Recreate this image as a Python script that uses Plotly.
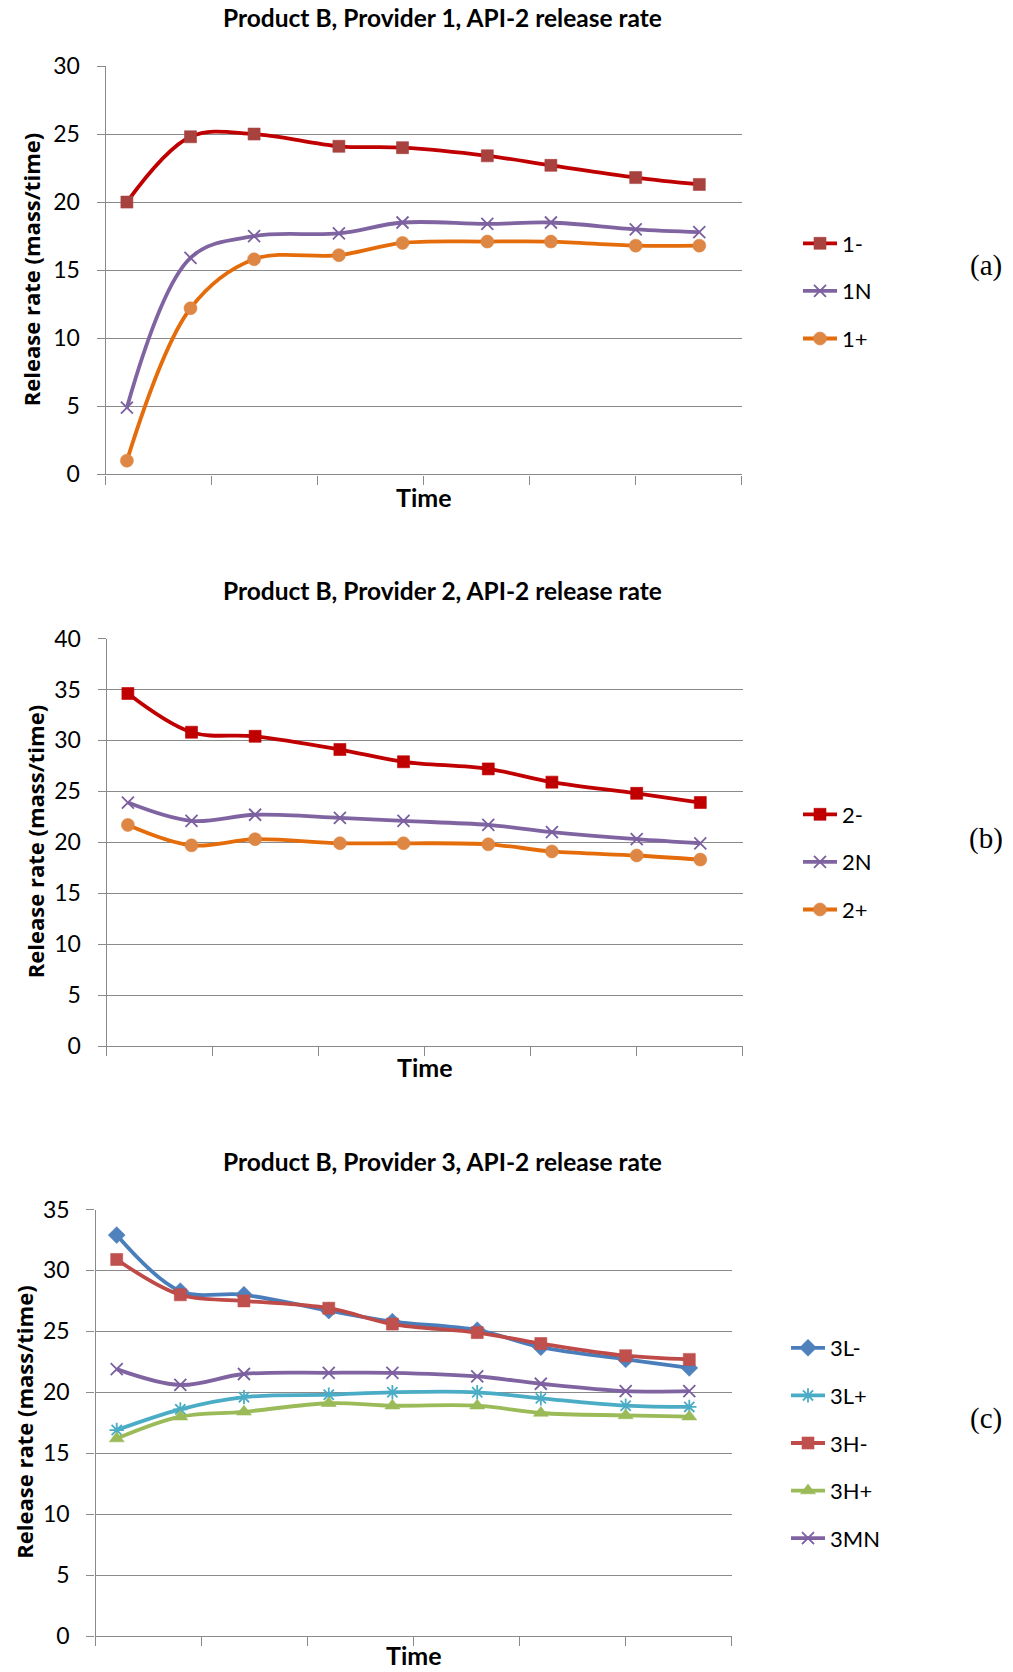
import plotly.graph_objects as go

# Sampling times (days) shared by every series
time_days = [1, 4, 7, 11, 14, 18, 21, 25, 28]

# Provider 1 release rates (mass/time)
p1_minus = [20.0, 24.8, 25.0, 24.1, 24.0, 23.4, 22.7, 21.8, 21.3]
p1_neutral = [4.9, 15.9, 17.5, 17.7, 18.5, 18.4, 18.5, 18.0, 17.8]
p1_plus = [1.0, 12.2, 15.8, 16.1, 17.0, 17.1, 17.1, 16.8, 16.8]

# Provider 2 release rates (mass/time)
p2_minus = [34.6, 30.8, 30.4, 29.1, 27.9, 27.2, 25.9, 24.8, 23.9]
p2_neutral = [23.9, 22.1, 22.7, 22.4, 22.1, 21.7, 21.0, 20.3, 19.9]
p2_plus = [21.7, 19.7, 20.3, 19.9, 19.9, 19.8, 19.1, 18.7, 18.3]

# Provider 3 release rates (mass/time)
p3_low_minus = [32.9, 28.3, 28.0, 26.7, 25.8, 25.1, 23.7, 22.7, 22.0]
p3_low_plus = [16.9, 18.6, 19.6, 19.8, 20.0, 20.0, 19.5, 18.9, 18.8]
p3_high_minus = [30.9, 28.0, 27.5, 26.9, 25.6, 24.9, 24.0, 23.0, 22.7]
p3_high_plus = [16.2, 18.0, 18.4, 19.1, 18.9, 18.9, 18.3, 18.1, 18.0]
p3_mid_neutral = [21.9, 20.6, 21.5, 21.6, 21.6, 21.3, 20.7, 20.1, 20.1]

panel_titles = [
    "Product B, Provider 1, API-2 release rate",
    "Product B, Provider 2, API-2 release rate",
    "Product B, Provider 3, API-2 release rate",
]
panel_tags = ["(a)", "(b)", "(c)"]
y_maxima = [30, 40, 35]

W, H = 1013, 1672


def fx(px):
    return px / W


def fy(py):
    return 1 - py / H


# plot boxes in page pixels: left, right, top, bottom
boxes = [
    (105.7, 741.7, 66.0, 474.3),
    (106.7, 742.7, 638.5, 1046.0),
    (95.5, 731.7, 1209.5, 1636.0),
]

# series: (panel, name, values, line colour, marker symbol, marker colour, marker size)
series = [
    (0, "1-", p1_minus, "#C00000", "square", "#A8423F", 12),
    (0, "1N", p1_neutral, "#8064A2", "x-thin-open", "#7B5FA0", 12),
    (0, "1+", p1_plus, "#E46C0A", "circle", "#DE8644", 13),
    (1, "2-", p2_minus, "#C00000", "square", "#C00000", 12),
    (1, "2N", p2_neutral, "#8064A2", "x-thin-open", "#7B5FA0", 12),
    (1, "2+", p2_plus, "#E46C0A", "circle", "#DE8644", 13),
    (2, "3L-", p3_low_minus, "#4A7EBB", "diamond", "#4F81BD", 13),
    (2, "3L+", p3_low_plus, "#4BACC6", "asterisk-open", "#4BACC6", 12),
    (2, "3H-", p3_high_minus, "#BE4B48", "square", "#C0504D", 12),
    (2, "3H+", p3_high_plus, "#9BBB59", "triangle-up", "#9BBB59", 13),
    (2, "3MN", p3_mid_neutral, "#8064A2", "x-thin-open", "#7B5FA0", 12),
]

fig = go.Figure()
legend_ids = ["legend", "legend2", "legend3"]
for panel, name, vals, lc, sym, mc, ms in series:
    suffix = "" if panel == 0 else str(panel + 1)
    open_sym = sym.endswith("open")
    fig.add_trace(go.Scatter(
        x=time_days, y=vals, name=name,
        mode="lines+markers",
        line=dict(color=lc, width=3.8, shape="spline", smoothing=1),
        marker=dict(symbol=sym, size=ms, color=mc,
                    line=dict(color=mc, width=1.8 if open_sym else 0.6)),
        xaxis="x" + suffix, yaxis="y" + suffix,
        legend=legend_ids[panel], legendgroup=name,
    ))

grid_col = "#8A8A8A"
tick_font = dict(family="Lato", size=23, color="#000000")
layout = dict(
    width=W, height=H, autosize=False,
    margin=dict(l=0, r=0, t=0, b=0, pad=0, autoexpand=False),
    paper_bgcolor="white", plot_bgcolor="white",
    showlegend=True,
)
annotations = []
legend_lefts = [798, 798, 786]
legend_centers = [291, 862, 1443]
tag_centers = [265, 838, 1418]
title_rows = [18, 590, 1161]
time_rows = [497, 1067, 1655]
ytitle_cols = [31, 35, 24]

for i, (l, r, t, b) in enumerate(boxes):
    suffix = "" if i == 0 else str(i + 1)
    layout["xaxis" + suffix] = dict(
        domain=[fx(l), fx(r)], anchor="y" + suffix, range=[0, 30],
        dtick=5, tick0=0, showticklabels=False, ticks="outside",
        ticklen=9, tickwidth=1.4, tickcolor=grid_col,
        showline=True, linecolor=grid_col, linewidth=1.4,
        showgrid=False, zeroline=False, fixedrange=True, automargin=False,
    )
    layout["yaxis" + suffix] = dict(
        domain=[fy(b), fy(t)], anchor="x" + suffix, range=[0, y_maxima[i]],
        dtick=5, tick0=0, ticks="outside", ticklen=8, tickwidth=1.4,
        tickcolor=grid_col, ticklabelstandoff=12, tickfont=tick_font,
        showline=True, linecolor=grid_col, linewidth=1.4,
        showgrid=True, gridcolor=grid_col, gridwidth=1.4,
        zeroline=False, fixedrange=True, automargin=False,
    )
    layout[legend_ids[i]] = dict(
        x=fx(legend_lefts[i]), xanchor="left",
        y=fy(legend_centers[i]), yanchor="middle",
        font=dict(family="Lato", size=22, color="#000000"),
        bgcolor="rgba(0,0,0,0)", borderwidth=0,
        tracegroupgap=16, itemwidth=34,
    )
    annotations.append(dict(
        text="<b>%s</b>" % panel_titles[i], x=fx(442), y=fy(title_rows[i]),
        xref="paper", yref="paper", showarrow=False,
        xanchor="center", yanchor="middle",
        font=dict(family="Lato", size=24.5, color="#000000"),
    ))
    annotations.append(dict(
        text="<b>Time</b>", x=fx((l + r) / 2), y=fy(time_rows[i]),
        xref="paper", yref="paper", showarrow=False,
        xanchor="center", yanchor="middle",
        font=dict(family="Lato", size=25, color="#000000"),
    ))
    annotations.append(dict(
        text="<b>Release rate (mass/time)</b>", x=fx(ytitle_cols[i]),
        y=fy((t + b) / 2), xref="paper", yref="paper", showarrow=False,
        xanchor="center", yanchor="middle", textangle=-90,
        font=dict(family="Open Sans", size=22, color="#000000"),
    ))
    annotations.append(dict(
        text=panel_tags[i], x=fx(986), y=fy(tag_centers[i]),
        xref="paper", yref="paper", showarrow=False,
        xanchor="center", yanchor="middle",
        font=dict(family="Liberation Serif", size=29, color="#000000"),
    ))

layout["annotations"] = annotations
fig.update_layout(**layout)
fig.write_html("out.html")
